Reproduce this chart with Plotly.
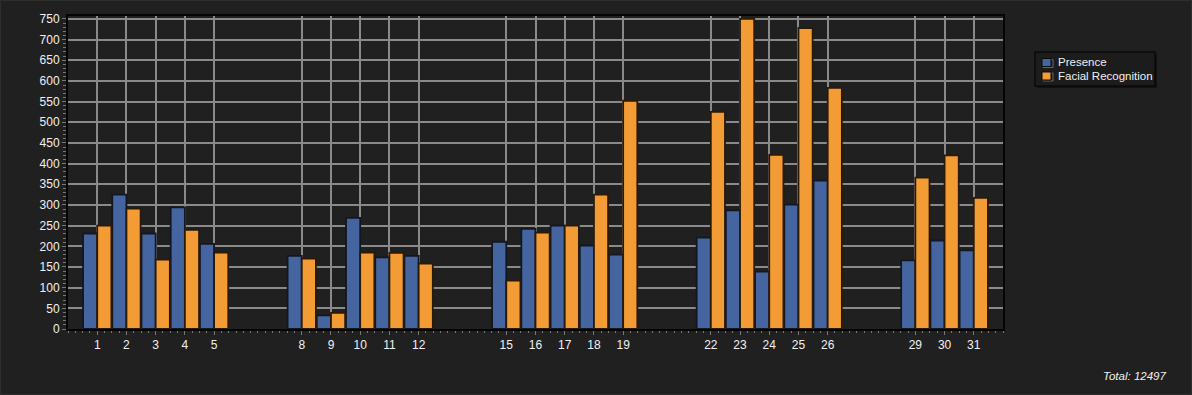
import plotly.graph_objects as go

days = [1, 2, 3, 4, 5, 8, 9, 10, 11, 12, 15, 16, 17, 18, 19, 22, 23, 24, 25, 26, 29, 30, 31]
presence = [231, 325, 231, 294, 206, 177, 33, 269, 173, 177, 211, 242, 250, 202, 180,
            221, 287, 139, 301, 359, 166, 214, 190]
facial = [250, 291, 168, 240, 185, 170, 39, 185, 184, 158, 117, 233, 250, 325, 552,
          525, 750, 421, 728, 583, 366, 420, 317]
tick_labels = [str(d) for d in days]
series_names = ["Presence", "Facial Recognition"]
series_colors = ["#4465a0", "#f39c35"]
total_text = "Total: 12497"

W, H = 1192, 395
ML, MR, MT, MB = 68, 189, 16, 66
PW, PH = W - ML - MR, H - MT - MB


def px(x):
    return (x - ML) / PW


def py(y):
    return (H - MB - y) / PH


BG = "#202020"
FONT = "Liberation Sans, Arial, sans-serif"
fig = go.Figure()
fig.add_trace(go.Bar(x=days, y=presence, name=series_names[0],
                     marker=dict(color=series_colors[0], line=dict(color="#121722", width=1.8))))
fig.add_trace(go.Bar(x=days, y=facial, name=series_names[1],
                     marker=dict(color=series_colors[1], line=dict(color="#2a1a08", width=1.8))))

fig.update_layout(
    width=W, height=H,
    paper_bgcolor=BG, plot_bgcolor=BG,
    margin=dict(l=ML, r=MR, t=MT, b=MB),
    barmode="group", bargap=0.03, bargroupgap=0,
    font=dict(family=FONT, color="#eeeeee", size=11),
    showlegend=False,
    xaxis=dict(range=[0, 32], tickmode="array", tickvals=days, ticktext=tick_labels,
               showgrid=True, gridcolor="#8a8a8a", gridwidth=1.5,
               showline=True, linecolor="#050505", linewidth=2, mirror=True,
               ticks="outside", ticklen=4, tickcolor="#777777", tickwidth=1,
               tickfont=dict(size=12, color="#f0f0f0", family=FONT),
               minor=dict(dtick=0.25, tick0=0, ticks="outside", ticklen=2,
                          tickcolor="#777777", tickwidth=1, showgrid=False),
               zeroline=False),
    yaxis=dict(range=[0, 757], tickmode="linear", tick0=0, dtick=50,
               showgrid=True, gridcolor="#8a8a8a", gridwidth=1.5,
               showline=True, linecolor="#050505", linewidth=2, mirror=True,
               ticks="outside", ticklen=4, tickcolor="#777777",
               tickfont=dict(size=12, color="#f0f0f0", family=FONT),
               minor=dict(dtick=10, ticks="outside", ticklen=3, tickcolor="#777777",
                          tickwidth=1, showgrid=False),
               zeroline=False),
)

# outer frame of the page
fig.add_shape(type="rect", xref="paper", yref="paper",
              x0=px(0.5), x1=px(W - 0.5), y0=py(H - 0.5), y1=py(0.5),
              line=dict(color="#2e2e2e", width=1), fillcolor="rgba(0,0,0,0)", layer="below")

# legend box
fig.add_shape(type="rect", xref="paper", yref="paper",
              x0=px(1037), x1=px(1157), y0=py(88), y1=py(54),
              line=dict(width=0), fillcolor="#111111", layer="below")
fig.add_shape(type="rect", xref="paper", yref="paper",
              x0=px(1035), x1=px(1155), y0=py(86), y1=py(52),
              line=dict(color="#0a0a0a", width=1.5), fillcolor="#1c1c1c", layer="below")
for i, (name, col) in enumerate(zip(series_names, series_colors)):
    yc = 62.5 + i * 13.5
    fig.add_shape(type="rect", xref="paper", yref="paper",
                  x0=px(1043), x1=px(1053), y0=py(yc + 5), y1=py(yc - 3),
                  line=dict(color="#666666", width=1), fillcolor="rgba(0,0,0,0)")
    fig.add_shape(type="rect", xref="paper", yref="paper",
                  x0=px(1042), x1=px(1051), y0=py(yc + 4), y1=py(yc - 4),
                  line=dict(color="#0a0a0a", width=1), fillcolor=col)
    fig.add_annotation(text=name, xref="paper", yref="paper",
                       x=px(1056), y=py(yc), xanchor="left", yanchor="middle",
                       showarrow=False, font=dict(size=11.5, color="#f0f0f0", family=FONT))

fig.add_annotation(text="<i>" + total_text + "</i>", xref="paper", yref="paper",
                   x=px(1168), y=py(376), xanchor="right", yanchor="middle",
                   showarrow=False, font=dict(size=11.5, color="#f0f0f0", family=FONT))

fig.write_html("out.html", config={"displayModeBar": False},
               post_script="document.body.style.margin='0';")
